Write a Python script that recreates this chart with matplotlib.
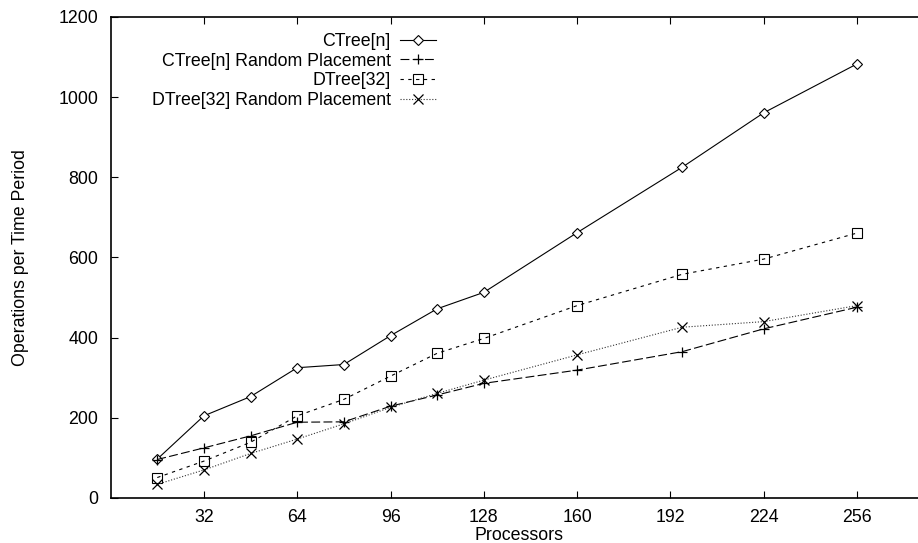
import matplotlib
matplotlib.use("Agg")
import matplotlib.pyplot as plt

plt.rcParams["font.family"] = ["Liberation Sans", "DejaVu Sans"]
plt.rcParams["font.size"] = 12.8

# ── data ──
processors = [16, 32, 48, 64, 80, 96, 112, 128, 160, 196, 224, 256]
ctree = [97, 205, 253, 325, 333, 405, 472, 513, 662, 825, 961, 1083]
ctree_rand = [96, 125, 155, 189, 190, 229, 257, 286, 319, 365, 422, 476]
dtree = [51, 92, 139, 205, 246, 304, 361, 398, 480, 558, 596, 661]
dtree_rand = [34, 70, 111, 147, 185, 226, 261, 294, 357, 426, 440, 480]

labels = ["CTree[n]", "CTree[n] Random Placement",
          "DTree[32]", "DTree[32] Random Placement"]
xticks = [32, 64, 96, 128, 160, 192, 224, 256]
yticks = [0, 200, 400, 600, 800, 1000, 1200]

fig = plt.figure(figsize=(9.18, 5.43), dpi=100)
ax = fig.add_axes([0.1205, 0.0829, 0.8893, 0.8858])

lw = 0.8
ax.plot(processors, ctree, "-", color="black", lw=lw, marker="D", ms=5.5,
        mfc="white", mec="black", mew=0.8, label=labels[0])
ax.plot(processors, ctree_rand, color="black", lw=lw, dashes=(8, 3), marker="+",
        ms=7.5, mew=0.9, label=labels[1])
ax.plot(processors, dtree, color="black", lw=lw, dashes=(3, 4), marker="s", ms=6.5,
        mfc="none", mec="black", mew=0.8, label=labels[2])
ax.plot(processors, dtree_rand, color="#333333", lw=lw, dashes=(1, 1.6), marker="x",
        ms=7, mew=0.9, mec="black", label=labels[3])

ax.set_xlim(0, 280)
ax.set_ylim(0, 1200)
ax.set_xticks(xticks)
ax.set_yticks(yticks)
ax.tick_params(direction="in", length=5, width=0.8, top=True, right=True)
ax.tick_params(axis="y", pad=9)
ax.tick_params(axis="x", pad=8)
for s in ax.spines.values():
    s.set_linewidth(1.2)

ax.set_xlabel("Processors")
ax.set_ylabel("Operations per Time Period")
ax.xaxis.set_label_coords(0.5, -0.061)
ax.yaxis.set_label_coords(-0.100, 0.5)

ax.legend(loc="upper right", bbox_to_anchor=(0.3986, 0.967), frameon=False,
          markerfirst=False, borderpad=0, borderaxespad=0, handlelength=2.0,
          handletextpad=0.55, labelspacing=0.15)

plt.savefig("out.png", dpi=100)
